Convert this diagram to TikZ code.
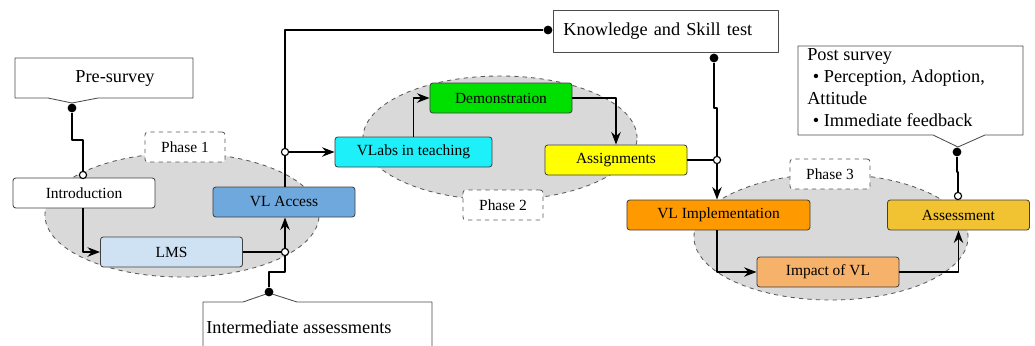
\documentclass[tikz,border=0pt]{standalone}
\usepackage{fontspec}
\setmainfont{Liberation Serif}
\usetikzlibrary{shapes.geometric, arrows.meta}
\definecolor{lmsblue}{HTML}{CFE2F3}
\definecolor{accessblue}{HTML}{6FA8DC}
\definecolor{labcyan}{HTML}{1EF0FA}
\definecolor{demogreen}{HTML}{00E000}
\definecolor{assignyellow}{HTML}{FFFF00}
\definecolor{implorange}{HTML}{FF9900}
\definecolor{impactorange}{HTML}{F6B26B}
\definecolor{assessgold}{HTML}{F1C232}

\begin{document}
\begin{tikzpicture}[x=0.025cm, y=-0.025cm, >=Stealth, line join=round]
    \tikzstyle{block} = [draw=black!75, line width=0.6pt, rectangle, rounded corners=2pt, minimum width=3.55cm, minimum height=0.75cm, inner sep=0pt, font=\fontsize{11}{13}\selectfont]
    \tikzstyle{oval} = [draw=black!65, dashed, line width=0.6pt, fill=black!15, ellipse, minimum width=6.85cm, minimum height=3.1cm]
    \tikzstyle{phaselabel} = [draw=black!65, dashed, line width=0.6pt, fill=white, rectangle, rounded corners=2pt, minimum width=2cm, minimum height=0.75cm, font=\fontsize{11}{13}\selectfont]
    \tikzstyle{note} = [draw=black!70, fill=white, line width=0.6pt]
    \tikzstyle{notetext} = [font=\fontsize{13}{15.6}\selectfont, inner sep=0pt]
    \tikzstyle{link} = [line width=1.3pt]
    \tikzstyle{dot} = [circle, fill=black, inner sep=0pt, minimum size=0.22cm]
    \tikzstyle{hole} = [circle, draw=black, fill=white, line width=0.8pt, inner sep=0pt, minimum size=0.18cm]

    \useasboundingbox (0,0) rectangle (1035,345);

    \node [oval] (oval1) at (182,215) {};
    \node [oval] (oval2) at (500,138) {};
    \node [oval, minimum height=3.15cm] (oval3) at (831,237) {};

    \node [phaselabel] (phase1) at (185,147) {Phase 1};
    \node [phaselabel] (phase2) at (503,205) {Phase 2};
    \node [phaselabel] (phase3) at (830,174) {Phase 3};

    \node [block, fill=white] (intro) at (84,193) {Introduction};
    \node [block, fill=lmsblue] (lms) at (171.5,252) {LMS};
    \node [block, fill=accessblue] (access) at (284,202) {VL Access};
    \node [block, fill=labcyan, minimum width=3.925cm] (vlabs) at (413.5,152) {VLabs in teaching};
    \node [block, fill=demogreen] (demo) at (501,98) {Demonstration};
    \node [block, fill=assignyellow] (assign) at (616,160) {Assignments};
    \node [block, fill=implorange, minimum width=4.575cm] (impl) at (718.5,215) {VL Implementation};
    \node [block, fill=impactorange] (impact) at (828,272) {Impact of VL};
    \node [block, fill=assessgold] (assess) at (958.5,215) {Assessment};

    \draw [note] (15,58) -- (193,58) -- (193,98) -- (98,98) -- (72,103) -- (48,98) -- (15,98) -- cycle;
    \node [notetext] (pre) at (115,78) {Pre-survey};
    \draw [note] (203,346) -- (203,302) -- (243,302) -- (269,293) -- (297,302) -- (432,302) -- (432,346);
    \node [notetext, anchor=base west] (mid) at (206,333) {Intermediate assessments};
    \node [note, rectangle, anchor=west, minimum height=1.05cm, text width=5.125cm, inner xsep=0.25cm, font=\fontsize{13}{15.6}\selectfont] (know) at (553,31) {Knowledge and Skill test};
    \draw [note] (798,46) -- (1023,46) -- (1023,135) -- (985,135) -- (958,147) -- (933,135) -- (798,135) -- cycle;
    \node [notetext, anchor=north west, align=left] (post) at (807,48) {Post survey\\\hspace{4pt}\textbullet\ Perception, Adoption,\\Attitude\\\hspace{4pt}\textbullet\ Immediate feedback};

    \node [dot] (preDot) at (72,108) {};
    \node [hole] (introHole) at (83,175) {};
    \node [hole] (lmsHole) at (285,252) {};
    \node [dot] (midDot) at (269,292) {};
    \node [hole] (accessHole) at (285,152) {};
    \node [dot] (knowDotA) at (548,30) {};
    \node [dot] (knowDotB) at (714,58) {};
    \node [hole] (assignHole) at (717,160) {};
    \node [dot] (postDot) at (957,152) {};
    \node [hole] (assessHole) at (958,196) {};

    \draw [link] (preDot) -- (72,140) -| (introHole);
    \draw [link, ->] (intro.south -| introHole) |- (lms.west);
    \draw [link] (lms.east) -- (lmsHole);
    \draw [link, ->] (lmsHole) -- (access.south -| lmsHole);
    \draw [link] (midDot) -- (269,272) -| (lmsHole);
    \draw [link] (access.north -| accessHole) -- (accessHole);
    \draw [link] (accessHole) |- (knowDotA);
    \draw [link, ->] (accessHole) -- (vlabs.west);
    \draw [link, ->] (vlabs.north) |- (demo.west);
    \draw [link, ->] (demo.east) -| (assign.north);
    \draw [link] (assign.east) -- (assignHole);
    \draw [link] (knowDotB) -- (714,108) -| (assignHole);
    \draw [link, ->] (assignHole) -- (impl.north -| assignHole);
    \draw [link, ->] (impl.south -| assignHole) |- (impact.west);
    \draw [link, ->] (impact.east) -| (assess.south);
    \draw [link] (postDot) -- (957,172) -| (assessHole);
\end{tikzpicture}
\end{document}
